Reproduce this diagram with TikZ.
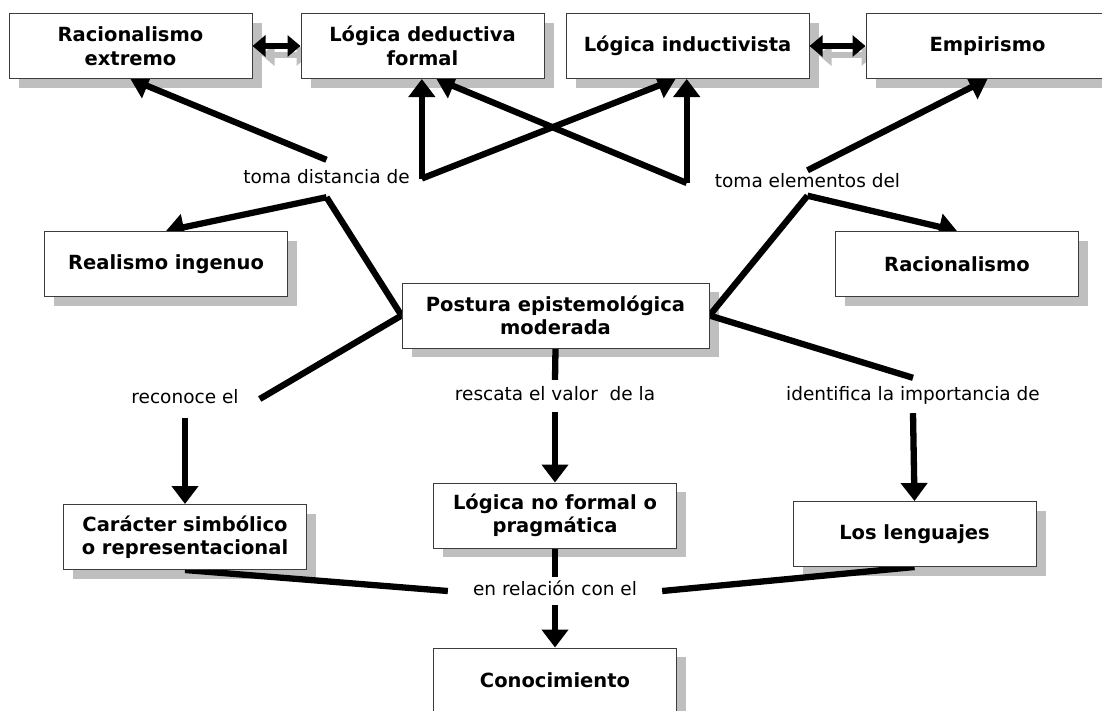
\documentclass[tikz,border=0pt]{standalone}
\usepackage{fontspec}
\setmainfont{DejaVu Sans}
\usetikzlibrary{arrows.meta,shadows,calc}
\pgfdeclarelayer{background}
\pgfsetlayers{background,main}
\definecolor{boxline}{RGB}{60,60,60}
\tikzset{
  concept/.style={draw=boxline, line width=1pt, fill=white,
    minimum width=243pt, minimum height=65pt, align=center, inner sep=2pt,
    font=\fontsize{19.5}{23.5}\selectfont\bfseries,
    drop shadow={shadow xshift=9.5pt, shadow yshift=-9pt, fill=black, opacity=0.25}},
  link/.style={font=\fontsize{18.5}{22}\selectfont, inner ysep=0pt,
    text height=13pt, text depth=4pt},
  conn/.style={line width=6.3pt, black},
  arr/.style={conn, -{Triangle[length=18pt,width=26pt]}},
  dbl/.style={line width=6.3pt, {Triangle[length=13pt,width=21pt]}-{Triangle[length=13pt,width=21pt]}},
}
\begin{document}
\begin{tikzpicture}[x=1pt,y=-1pt]
\useasboundingbox (0,0) rectangle (1102,710);
% concepts
\node[concept] (rext) at (130.5,46) {Racionalismo\\extremo};
\node[concept] (lded) at (422.5,46) {Lógica deductiva\\formal};
\node[concept] (lind) at (687.5,46) {Lógica inductivista};
\node[concept] (emp) at (987.5,46) {Empirismo};
\node[concept] (real) at (166,264) {Realismo ingenuo};
\node[concept, minimum width=307pt] (post) at (555.5,315.5) {Postura epistemológica\\moderada};
\node[concept] (rac) at (957,264) {Racionalismo};
\node[concept] (car) at (185,537) {Carácter simbólico\\o representacional};
\node[concept] (lnf) at (555,515.5) {Lógica no formal o\\pragmática};
\node[concept] (leng) at (914.5,534) {Los lenguajes};
\node[concept] (con) at (555,680.5) {Conocimiento};
% linking phrases
\node[link, minimum height=37pt, inner xsep=12pt] (td) at (326.5,178.5) {toma distancia de};
\node[link, minimum height=25pt, inner xsep=28pt] (te) at (807.5,183) {toma elementos del};
\node[link, minimum height=38pt, inner xsep=21pt] (rec) at (185,399) {reconoce el};
\node[link, minimum height=32pt, inner xsep=4pt] (res) at (555,396) {rescata el valor\ \ de la};
\node[link, minimum height=35pt, inner xsep=4pt] (ide) at (913,395.5) {identifica la importancia de};
\node[link, minimum height=28pt, inner xsep=25pt] (rel) at (555,591) {en relación con el};
% connectors
\begin{pgfonlayer}{background}
\draw[conn] (post.west) -- (td.south);
\draw[arr] (td.south) -- (real.north);
\draw[arr] (td.north) -- (rext.south);
\draw[arr] (td.east) -- (td.east |- lded.south);
\draw[arr] (td.east) -- ([xshift=-12pt]lind.south);
\draw[conn] (post.east) -- (te.south);
\draw[arr] (te.south) -- (rac.north);
\draw[arr] (te.north) -- (emp.south);
\draw[arr] (te.west) -- (te.west |- lind.south);
\draw[arr] (te.west) -- ([xshift=14pt]lded.south);
\draw[conn] (post.west) -- (rec.east);
\draw[arr] (rec.south) -- (car.north);
\draw[conn] (post.south) -- (res.north);
\draw[arr] (res.south) -- (lnf.north);
\draw[conn] (post.east) -- (ide.north);
\draw[arr] (ide.south) -- (leng.north);
\draw[conn] (car.south) -- (rel.west);
\draw[conn] (leng.south) -- (rel.east);
\draw[conn] (lnf.south) -- (rel.north);
\draw[arr] (rel.south) -- (con.north);
\draw[dbl, black!25] ([shift={(9pt,-9pt)}]rext.east) -- ([shift={(9pt,-9pt)}]lded.west);
\draw[dbl, black!25] ([shift={(9pt,-9pt)}]lind.east) -- ([shift={(9pt,-9pt)}]emp.west);
\end{pgfonlayer}
\draw[dbl] (rext.east) -- (lded.west);
\draw[dbl] (lind.east) -- (emp.west);
\end{tikzpicture}
\end{document}
